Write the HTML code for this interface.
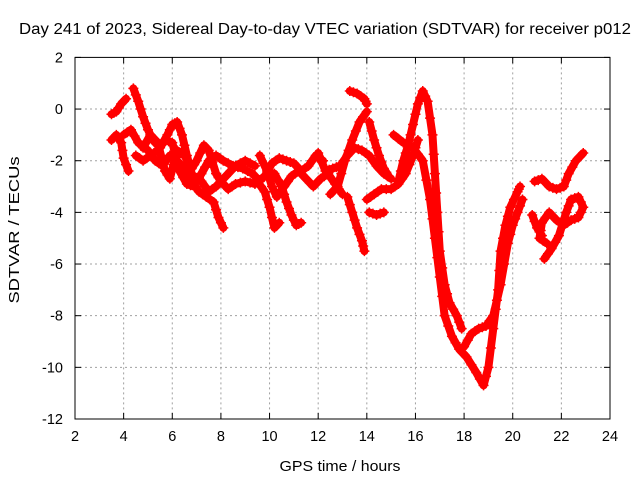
<!DOCTYPE html>
<html><head><meta charset="utf-8"><style>
html,body{margin:0;padding:0;background:#fff}
svg{display:block;font-family:"Liberation Sans",sans-serif}
</style></head><body>
<svg id="chart" width="640" height="480">
<rect width="640" height="480" fill="#fff"/>
<text x="325" y="34" font-size="15.5" text-anchor="middle" textLength="612" lengthAdjust="spacingAndGlyphs">Day 241 of 2023, Sidereal Day-to-day VTEC variation (SDTVAR) for receiver p012</text>
<text x="340" y="471" font-size="15" text-anchor="middle" textLength="121" lengthAdjust="spacingAndGlyphs">GPS time / hours</text>
<text x="19" y="230" font-size="15" text-anchor="middle" textLength="147" lengthAdjust="spacingAndGlyphs" transform="rotate(-90 19 230)">SDTVAR / TECUs</text>
<g id="grid"></g>
<g id="ticks"></g>
<g id="marks"></g>
<rect x="75" y="57.4" width="535" height="361.6" fill="none" stroke="#000" stroke-width="1"/>
</svg>
<script>
const xTicks=[2,4,6,8,10,12,14,16,18,20,22,24];
const yTicks=[2,0,-2,-4,-6,-8,-10,-12];
const trackA=[[15.3,-2.8],[15.5,-2.0],[15.7,-1.4],[15.9,-0.6],[16.1,0.2],[16.3,0.7],[16.5,0.3],[16.7,-1],[16.8,-2.5],[16.9,-4],[17.0,-5.5],[17.2,-6.8],[17.4,-7.5],[17.7,-8.0],[17.9,-8.5]];
const trackB=[[15.1,-1.0],[15.5,-1.3],[15.9,-1.5],[16.3,-2.0],[16.6,-3.5],[16.8,-5],[17.0,-6.5],[17.2,-8],[17.5,-8.8],[17.8,-9.3],[18.1,-9.6],[18.5,-10.2],[18.8,-10.7],[19.0,-10.0],[19.2,-8.5],[19.4,-7],[19.5,-5.5],[19.7,-4.5],[19.9,-3.8],[20.2,-3.2],[20.3,-3]];
const trackC=[[18.0,-9.2],[18.3,-8.7],[18.6,-8.5],[18.9,-8.4],[19.2,-8.0],[19.5,-6.8],[19.8,-5.2],[20.0,-4.5],[20.2,-4.0],[20.4,-3.5]];
const trackD=[[20.8,-4.1],[21.0,-4.6],[21.2,-4.9]];
const trackE=[[20.9,-2.8],[21.2,-2.7],[21.5,-3.0],[21.8,-3.1],[22.1,-3.0],[22.3,-2.5],[22.6,-2.0],[22.9,-1.7]];
const trackF=[[21.3,-5.8],[21.6,-5.4],[21.9,-4.9],[22.2,-4.0],[22.4,-3.5],[22.7,-3.4],[22.9,-3.8],[22.7,-4.2],[22.4,-4.3],[22.1,-4.5],[21.8,-4.3],[21.5,-4.0],[21.2,-4.4],[21.1,-5.0],[21.4,-5.2]];
const trackG=[[14.0,-3.5],[14.3,-3.3],[14.6,-3.1],[15.0,-3.1],[15.3,-2.9],[15.6,-2.5],[15.9,-1.8],[16.1,-1.2]];
const trackH=[[13.3,0.7],[13.6,0.6],[13.9,0.4],[14.0,0.2]];
const trackI=[[14.1,-4.0],[14.4,-4.1],[14.7,-4.0]];
const trackL1=[[3.5,-0.2],[3.7,-0.1],[3.9,0.2],[4.1,0.4]];
const trackL2=[[3.5,-1.2],[3.7,-1.0],[3.9,-1.3],[4.0,-1.9],[4.2,-2.4]];
const trackL3=[[4.4,0.8],[4.6,0.3],[4.8,-0.3],[5.0,-0.8],[5.2,-1.2],[5.5,-1.5],[5.8,-1.0],[6.0,-0.6],[6.2,-0.5],[6.4,-1.0],[6.6,-1.8],[6.8,-2.5],[7.0,-2.8],[7.2,-2.5],[7.5,-2.0],[7.8,-1.8],[8.1,-2.0],[8.5,-2.2],[8.9,-2.3],[9.3,-2.5],[9.6,-2.8]];
const trackL4=[[4.0,-1.0],[4.3,-0.8],[4.6,-1.3],[5.0,-1.6],[5.3,-2.0],[5.6,-2.2],[5.9,-1.8],[6.2,-2.0],[6.5,-2.3],[6.8,-2.8],[7.1,-3.2],[7.4,-3.4],[7.7,-3.6],[7.9,-4.2],[8.1,-4.6]];
const trackL5=[[4.8,-1.5],[5.1,-1.0],[5.4,-1.3],[5.7,-2.4],[5.9,-2.7],[6.2,-1.6],[6.5,-1.8],[6.8,-2.3],[7.0,-2.0],[7.3,-1.4],[7.5,-1.6],[7.8,-2.5],[8.0,-2.8],[8.3,-3.1],[8.6,-2.9],[9.0,-2.8],[9.4,-2.9],[9.8,-2.6],[10.1,-2.1],[10.4,-1.9],[10.7,-2.0],[11.0,-2.1],[11.3,-2.4],[11.6,-2.2],[11.9,-1.8],[12.2,-2.0]];
const trackL6=[[7.2,-2.8],[7.5,-3.2],[7.8,-3.0],[8.2,-2.6],[8.6,-2.2],[9.0,-2.0],[9.4,-2.2]];
const trackL7=[[9.5,-2.8],[9.8,-3.2],[10.0,-3.8],[10.2,-4.6],[10.4,-4.4]];
const trackL8=[[10.2,-2.5],[10.5,-3.0],[10.7,-3.6],[10.9,-4.1],[11.1,-4.5],[11.3,-4.4]];
const trackL9=[[9.6,-1.8],[9.9,-2.4],[10.1,-3.0],[10.3,-3.4],[10.6,-3.0],[10.9,-2.6],[11.2,-2.4],[11.5,-2.7],[11.8,-3.0],[12.1,-2.7],[12.4,-2.5],[12.7,-2.9],[13.0,-3.3]];
const trackL10=[[12.0,-1.7],[12.3,-2.4],[12.6,-2.3],[12.9,-2.2],[13.2,-1.8],[13.5,-1.5],[13.8,-1.6],[14.1,-1.8],[14.4,-2.2],[14.7,-2.5],[15.0,-2.7]];
const trackL11=[[12.5,-3.3],[12.8,-3.0],[13.1,-2.0],[13.4,-1.2],[13.7,-0.5],[14.0,-0.1]];
const trackL12=[[14.1,-0.5],[14.3,-1.2],[14.5,-1.8],[14.7,-2.3],[14.9,-2.6]];
const trackL13=[[13.2,-3.4],[13.4,-4.0],[13.6,-4.6],[13.8,-5.1],[13.9,-5.5]];
const trackL14=[[4.5,-1.8],[4.8,-2.0],[5.1,-1.8],[5.4,-1.6],[5.7,-1.2],[6.0,-1.3],[6.3,-2.4],[6.6,-2.9],[6.9,-3.0]];
const tracks=[trackA,trackB,trackC,trackD,trackE,trackF,trackG,trackH,trackI,trackL1,trackL2,trackL3,trackL4,trackL5,trackL6,trackL7,trackL8,trackL9,trackL10,trackL11,trackL12,trackL13,trackL14];

const NS='http://www.w3.org/2000/svg';
const X0=75,X1=610,Y0=57.4,Y1=419;
function xs(t){return X0+(t-2)/(24-2)*(X1-X0);}
function ys(v){return Y0+(2-v)/(2-(-12))*(Y1-Y0);}
function mk(tag,attrs,parent){const e=document.createElementNS(NS,tag);for(const k in attrs)e.setAttribute(k,attrs[k]);parent.appendChild(e);return e;}
const grid=document.getElementById('grid'),ticks=document.getElementById('ticks'),marks=document.getElementById('marks');
xTicks.forEach(t=>{
  const x=xs(t);
  if(t>2&&t<24){const g=mk('line',{x1:x,x2:x,y1:Y0,y2:Y1,stroke:'#a0a0a0','stroke-dasharray':'2,3'},grid);
  
  }
  mk('line',{x1:x,x2:x,y1:Y1,y2:Y1-6,stroke:'#000'},ticks);
  mk('line',{x1:x,x2:x,y1:Y0,y2:Y0+6,stroke:'#000'},ticks);
  const l=mk('text',{x:x,y:Y1+22,'font-size':14.5,'text-anchor':'middle'},ticks);l.textContent=t;
  
  
});
yTicks.forEach(v=>{
  const y=ys(v);
  if(v<2&&v>-12){const g=mk('line',{x1:X0,x2:X1,y1:y,y2:y,stroke:'#a0a0a0','stroke-dasharray':'2,3'},grid);
  
  }
  mk('line',{x1:X0,x2:X0+6,y1:y,y2:y,stroke:'#000'},ticks);
  mk('line',{x1:X1,x2:X1-6,y1:y,y2:y,stroke:'#000'},ticks);
  const l=mk('text',{x:X0-12,y:y+5,'font-size':14.5,'text-anchor':'end'},ticks);l.textContent=v;
  
  
});
tracks.forEach(tr=>{
  const pts=tr.map(p=>xs(p[0])+','+ys(p[1])).join(' ');
  const pl=mk('polyline',{points:pts,fill:'none',stroke:'#f00','stroke-width':8,'stroke-linejoin':'round','stroke-linecap':'round'},marks);
  
  
  for(let i=0;i<tr.length;i++){
    const x=xs(tr[i][0]),y=ys(tr[i][1]);
    const m=mk('path',{d:`M${x-5},${y}h10M${x},${y-5}v10`,stroke:'#f00','stroke-width':1.5},marks);
    
    
    if(i+1<tr.length){
      const xm=(x+xs(tr[i+1][0]))/2,ym=(y+ys(tr[i+1][1]))/2;
      const m2=mk('path',{d:`M${xm-5},${ym}h10M${xm},${ym-5}v10`,stroke:'#f00','stroke-width':1.5},marks);
      
      
    }
  }
});
</script>
</body></html>
